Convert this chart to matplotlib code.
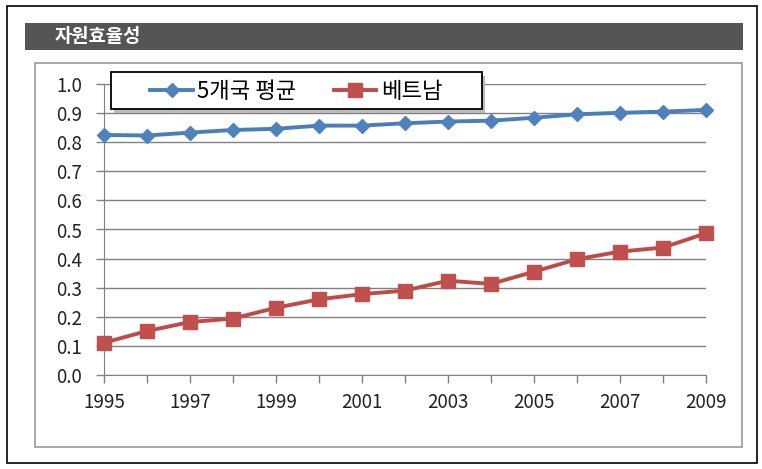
import matplotlib.pyplot as plt
from matplotlib.patches import Rectangle

plt.rcParams['font.family'] = ['Noto Sans CJK KR', 'DejaVu Sans']

years = list(range(1995, 2010))
avg5 = [0.825, 0.823, 0.833, 0.842, 0.846, 0.857, 0.857, 0.865, 0.871, 0.874, 0.884, 0.896, 0.901, 0.905, 0.911]
vietnam = [0.111, 0.151, 0.182, 0.194, 0.231, 0.260, 0.278, 0.290, 0.324, 0.313, 0.355, 0.398, 0.424, 0.438, 0.487]
yticks = [0.0, 0.1, 0.2, 0.3, 0.4, 0.5, 0.6, 0.7, 0.8, 0.9, 1.0]
xticks = [1995, 1997, 1999, 2001, 2003, 2005, 2007, 2009]

W, H = 762, 469
fig = plt.figure(figsize=(W / 100, H / 100), dpi=100)

def box(x0, y0, x1, y1, z=-5, **kw):
    # pixel coords (top-left origin) -> figure fraction
    r = Rectangle((x0 / W, 1 - y1 / H), (x1 - x0) / W, (y1 - y0) / H,
                  transform=fig.transFigure, zorder=z, **kw)
    fig.patches.append(r)

# frame, title bar, inner box
box(7, 6, 757, 463, facecolor='white', edgecolor='black', lw=1.2)
box(25, 23, 743, 50, facecolor='#555555', edgecolor='none')
box(35, 63, 742, 447, facecolor='white', edgecolor='#999999', lw=1.2)
fig.text(55 / W, 1 - 37 / H, '자원효율성', color='white', fontsize=13.5,
         fontweight='bold', va='center', ha='left')

ax = fig.add_axes([104 / W, 1 - 375 / H, 602 / W, 291 / H])
ax.set_facecolor('none')

ax.plot(years, avg5, color='#4A7EBB', lw=2.8, marker='D', ms=7,
        markerfacecolor='#4F81BD', markeredgecolor='#4F81BD', label='5개국 평균',
        clip_on=False, zorder=3)
ax.plot(years, vietnam, color='#BE4B48', lw=2.8, marker='s', ms=10,
        markerfacecolor='#C0504D', markeredgecolor='#C0504D', label='베트남',
        clip_on=False, zorder=3)

ax.set_xlim(1995, 2009)
ax.set_ylim(0, 1.0)
ax.set_yticks(yticks)
ax.set_yticklabels(['%.1f' % v for v in yticks])
ax.set_xticks(years)
ax.set_xticklabels([str(y) if y in xticks else '' for y in years])
ax.grid(axis='y', color='#808080', lw=1)
ax.set_axisbelow(True)

for s in ['top', 'right']:
    ax.spines[s].set_visible(False)
ax.spines['left'].set_color('#808080')
ax.spines['bottom'].set_color('#808080')
ax.tick_params(axis='both', colors='#808080', labelcolor='#222222',
               labelsize=13.5, length=6, width=1, direction='out')
ax.tick_params(axis='x', pad=6)
ax.tick_params(axis='y', pad=10)

# legend box with soft shadow, drawn above the plot area
fig.add_artist(Rectangle((114 / W, 1 - 113 / H), 371 / W, 37 / H,
                         transform=fig.transFigure, facecolor='#bbbbbb',
                         edgecolor='none', zorder=4))
fig.add_artist(Rectangle((111 / W, 1 - 109 / H), 371 / W, 37 / H,
                         transform=fig.transFigure, facecolor='white',
                         edgecolor='black', lw=1.3, zorder=5))
leg = ax.legend(loc='center left', bbox_to_anchor=(146 / W, 1 - 91 / H),
                bbox_transform=fig.transFigure, ncol=2, borderaxespad=0,
                frameon=False, fontsize=16, handlelength=1.9,
                columnspacing=1.7, borderpad=0.2, handletextpad=0.2)
leg.set_zorder(6)
fig.add_artist(leg)

fig.savefig('out.png', dpi=100)
